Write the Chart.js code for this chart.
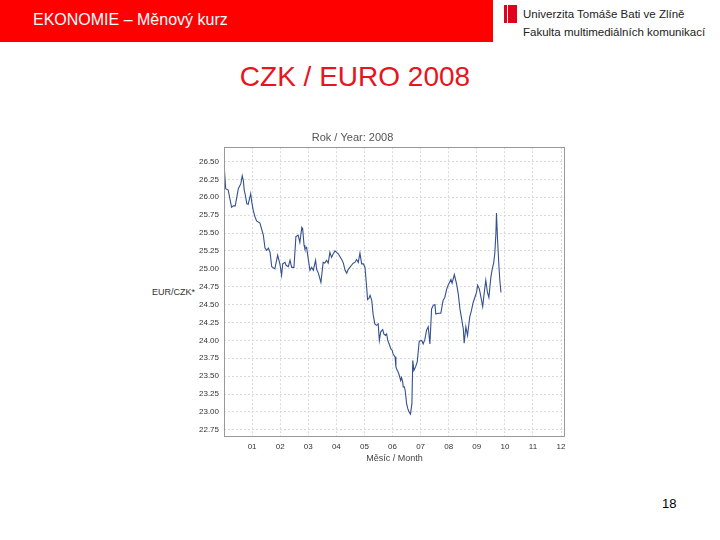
<!DOCTYPE html>
<html>
<head>
<meta charset="utf-8">
<script src="https://cdn.jsdelivr.net/npm/chart.js@4"></script>
<style>
body { margin:0; width:720px; height:540px; background:#fff; position:relative; overflow:hidden; font-family:"Liberation Sans", Arial, sans-serif; }
#bar { position:absolute; left:0; top:0; width:493px; height:42px; background:#ff0000; }
#bar span { position:absolute; left:33px; top:11px; color:#fff; font-size:16px; }
#logoIcon { position:absolute; left:504px; top:5px; width:13px; height:18px; background:#e2001a; }
#logoIcon i { position:absolute; left:3px; top:0; width:1px; height:18px; background:#fff; }
.uni { position:absolute; left:523px; color:#222; font-size:11.5px; white-space:nowrap; }
#slideTitle { position:absolute; left:0; width:710px; top:61px; text-align:center; color:#e8141e; font-size:28px; }
#yLabel { position:absolute; left:152px; top:287px; font-size:9px; color:#333; }
#pageNo { position:absolute; left:662px; top:496px; font-size:13px; color:#000; }
#myChart { position:absolute; left:140px; top:125px; }
</style>
</head>
<body>
<div id="bar"><span>EKONOMIE – Měnový kurz</span></div>
<div id="logoIcon"><i></i></div>
<div class="uni" style="top:8px;">Univerzita Tomáše Bati ve Zlíně</div>
<div class="uni" style="top:26px;">Fakulta multimediálních komunikací</div>
<div id="slideTitle">CZK / EURO 2008</div>
<div id="yLabel">EUR/CZK*</div>
<canvas id="myChart" width="435" height="345"></canvas>
<div id="pageNo">18</div>
<script>
// months since 1 Jan 2008 (fraction)
var months = [0.02,0.06,0.15,0.27,0.33,0.40,0.51,0.60,0.65,0.69,
	0.72,0.77,0.81,0.86,0.95,0.99,1.04,1.10,1.16,1.28,
	1.40,1.46,1.52,1.58,1.64,1.70,1.81,1.91,1.99,2.05,
	2.09,2.17,2.21,2.29,2.35,2.41,2.49,2.56,2.64,2.70,
	2.77,2.80,2.85,2.88,2.94,3.00,3.06,3.12,3.18,3.26,
	3.30,3.36,3.45,3.53,3.59,3.65,3.71,3.77,3.83,3.89,
	3.95,4.01,4.07,4.13,4.19,4.25,4.31,4.37,4.42,4.48,
	4.54,4.60,4.66,4.72,4.78,4.84,4.90,4.96,5.02,5.08,
	5.11,5.16,5.20,5.26,5.31,5.37,5.43,5.49,5.53,5.58,
	5.65,5.69,5.75,5.79,5.83,5.88,5.94,5.99,6.02,6.09,
	6.12,6.17,6.20,6.24,6.29,6.32,6.36,6.38,6.42,6.45,
	6.50,6.54,6.59,6.64,6.69,6.72,6.76,6.82,6.88,6.95,
	7.04,7.09,7.15,7.21,7.27,7.33,7.39,7.45,7.51,7.54,
	7.63,7.72,7.80,7.86,7.93,7.98,8.08,8.12,8.20,8.28,
	8.34,8.40,8.46,8.52,8.55,8.61,8.67,8.75,8.81,8.87,
	8.93,8.99,9.03,9.09,9.15,9.21,9.26,9.32,9.38,9.43,
	9.50,9.55,9.60,9.64,9.68,9.70,9.74,9.79,9.82,9.86];

// EUR/CZK rate
var rates = [26.36,26.12,26.10,25.86,25.88,25.88,26.12,26.19,26.30,26.23,
	26.10,26.01,25.91,25.90,26.05,25.93,25.82,25.73,25.67,25.64,
	25.47,25.29,25.26,25.29,25.23,25.03,25.00,25.19,25.07,24.91,
	25.07,25.09,25.05,25.03,25.12,25.02,25.02,25.45,25.47,25.37,
	25.58,25.56,25.33,25.28,25.30,25.14,24.98,25.02,24.98,25.12,
	24.99,24.94,24.81,25.09,25.08,25.12,25.08,25.23,25.16,25.21,
	25.25,25.23,25.21,25.17,25.13,25.08,24.98,24.94,24.99,25.02,
	25.05,25.08,25.09,25.13,25.09,25.22,25.07,25.07,25.02,24.74,
	24.57,24.59,24.63,24.56,24.36,24.23,24.21,24.23,24.00,24.12,
	24.15,24.09,24.07,24.09,24.00,23.95,23.88,23.86,23.81,23.77,
	23.63,23.58,23.56,23.51,23.44,23.48,23.42,23.35,23.35,23.30,
	23.12,23.05,23.00,22.97,23.12,23.72,23.58,23.63,23.70,23.99,
	24.00,23.95,24.01,24.14,24.19,23.95,24.44,24.49,24.50,24.37,
	24.38,24.38,24.56,24.60,24.72,24.77,24.85,24.80,24.92,24.79,
	24.65,24.44,24.30,24.16,23.96,24.19,24.07,24.33,24.42,24.53,
	24.60,24.67,24.77,24.72,24.60,24.47,24.65,24.84,24.67,24.60,
	24.88,25.00,25.08,25.21,25.49,25.78,25.40,25.02,24.84,24.67];

var monthLabels = ['01','02','03','04','05','06','07','08','09','10','11','12'];

var points = months.map((m, i) => ({ x: m, y: rates[i] }));

// frame round the plot area (all four sides)
var frame = {
	id: 'frame',
	afterDatasetsDraw(chart) {
		var a = chart.chartArea;
		var ctx = chart.ctx;
		ctx.save();
		ctx.strokeStyle = '#999';
		ctx.lineWidth = 1;
		ctx.strokeRect(Math.round(a.left) + 0.5, Math.round(a.top) + 0.5, Math.round(a.right - a.left) - 1, Math.round(a.bottom - a.top) - 1);
		ctx.restore();
	}
};

Chart.defaults.font.family = '"Liberation Sans", Arial, sans-serif';

var ctx = document.getElementById('myChart');
var myChart = new Chart(ctx, {
	type: 'line',
	data: {
		datasets: [{
			data: points,
			borderColor: '#34508f',
			borderWidth: 1.1,
			pointRadius: 0,
			tension: 0,
			fill: false
		}]
	},
	options: {
		responsive: false,
		maintainAspectRatio: false,
		animation: false,
		layout: { padding: { top: 0, right: 10, left: 0, bottom: 0 } },
		plugins: {
			legend: { display: false },
			tooltip: { enabled: false },
			title: {
				display: true,
				text: 'Rok / Year: 2008',
				color: '#555',
				font: { size: 11, weight: 'normal' },
				padding: { top: 6, bottom: 3 }
			}
		},
		scales: {
			x: {
				type: 'linear',
				min: 0,
				max: 12.14,
				afterFit: s => { s.height = 33; },
				grid: { color: '#dadada', drawTicks: false },
				border: { display: false, dash: [2, 2] },
				ticks: {
					stepSize: 1,
					includeBounds: false,
					padding: 5,
					color: '#333',
					font: { size: 8 },
					maxRotation: 0,
					callback: v => monthLabels[v - 1]
				},
				title: {
					display: true,
					text: 'Měsíc / Month',
					color: '#444',
					font: { size: 9 },
					padding: 6
				}
			},
			y: {
				min: 22.65,
				max: 26.7,
				afterFit: s => { s.width = 84; },
				grid: { color: '#dadada', drawTicks: false },
				border: { display: false, dash: [2, 2] },
				ticks: {
					stepSize: 0.25,
					includeBounds: false,
					padding: 5,
					color: '#333',
					font: { size: 8 },
					callback: v => v.toFixed(2)
				}
			}
		}
	},
	plugins: [frame]
});
</script>
</body>
</html>
